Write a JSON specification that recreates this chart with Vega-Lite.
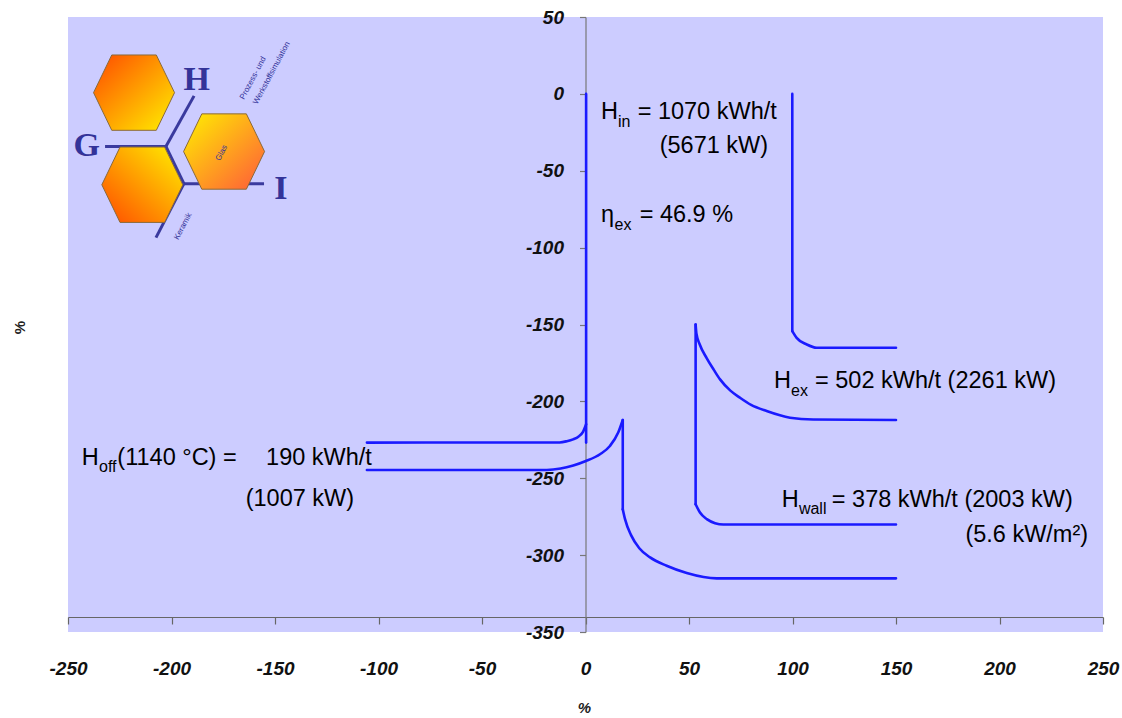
{
  "$schema": "https://vega.github.io/schema/vega-lite/v6.json",
  "width": 1035,
  "height": 615,
  "autosize": {"type": "none"},
  "padding": {"left": 68, "top": 17, "right": 19, "bottom": 86},
  "background": "white",
  "config": {
    "view": {"fill": "#ccccff", "stroke": null},
    "axis": {"grid": false}
  },
  "datasets": {
    "verticals": [
      {"series": "in_left", "order": 1, "x": 0.3, "y": 0},
      {"series": "in_left", "order": 2, "x": 0.3, "y": -226.8},
      {"series": "lower_drop", "order": 1, "x": 18, "y": -212.1},
      {"series": "lower_drop", "order": 2, "x": 18, "y": -270.1},
      {"series": "wall_drop", "order": 1, "x": 53.2, "y": -150},
      {"series": "wall_drop", "order": 2, "x": 53.2, "y": -266.9},
      {"series": "in_right", "order": 1, "x": 99.9, "y": 0},
      {"series": "in_right", "order": 2, "x": 99.9, "y": -154.3}
    ],
    "curves": [
      {"series": "off_upper", "order": 1, "x": -105.6, "y": -226.8},
      {"series": "off_upper", "order": 2, "x": -12.5, "y": -226.7},
      {"series": "off_upper", "order": 3, "x": -9, "y": -225.9},
      {"series": "off_upper", "order": 4, "x": -6, "y": -224.7},
      {"series": "off_upper", "order": 5, "x": -3.3, "y": -222.8},
      {"series": "off_upper", "order": 6, "x": -1.2, "y": -219.8},
      {"series": "off_upper", "order": 7, "x": 0.3, "y": -214.9},
      {"series": "lower_left", "order": 1, "x": -105.6, "y": -244.6},
      {"series": "lower_left", "order": 2, "x": -18.7, "y": -244.6},
      {"series": "lower_left", "order": 3, "x": -12, "y": -243.7},
      {"series": "lower_left", "order": 4, "x": -5.9, "y": -241.7},
      {"series": "lower_left", "order": 5, "x": 0.2, "y": -238.8},
      {"series": "lower_left", "order": 6, "x": 7, "y": -234.4},
      {"series": "lower_left", "order": 7, "x": 11.8, "y": -229},
      {"series": "lower_left", "order": 8, "x": 15.8, "y": -220.3},
      {"series": "lower_left", "order": 9, "x": 18, "y": -212.1},
      {"series": "lower_right", "order": 1, "x": 18, "y": -270.1},
      {"series": "lower_right", "order": 2, "x": 19.1, "y": -276.6},
      {"series": "lower_right", "order": 3, "x": 22, "y": -287},
      {"series": "lower_right", "order": 4, "x": 26, "y": -295.5},
      {"series": "lower_right", "order": 5, "x": 31.2, "y": -301.5},
      {"series": "lower_right", "order": 6, "x": 39.2, "y": -306.9},
      {"series": "lower_right", "order": 7, "x": 48.9, "y": -311.6},
      {"series": "lower_right", "order": 8, "x": 63.4, "y": -315.1},
      {"series": "lower_right", "order": 9, "x": 150, "y": -315.1},
      {"series": "wall", "order": 1, "x": 53.2, "y": -266.9},
      {"series": "wall", "order": 2, "x": 55.3, "y": -272.3},
      {"series": "wall", "order": 3, "x": 58.6, "y": -276.6},
      {"series": "wall", "order": 4, "x": 62.6, "y": -279.2},
      {"series": "wall", "order": 5, "x": 66.6, "y": -280.1},
      {"series": "wall", "order": 6, "x": 150, "y": -280.1},
      {"series": "ex", "order": 1, "x": 53.2, "y": -150},
      {"series": "ex", "order": 2, "x": 53.6, "y": -156},
      {"series": "ex", "order": 3, "x": 55.2, "y": -163},
      {"series": "ex", "order": 4, "x": 58.6, "y": -172},
      {"series": "ex", "order": 5, "x": 62, "y": -179.5},
      {"series": "ex", "order": 6, "x": 65, "y": -185.7},
      {"series": "ex", "order": 7, "x": 70, "y": -193},
      {"series": "ex", "order": 8, "x": 74.6, "y": -197.6},
      {"series": "ex", "order": 9, "x": 80, "y": -202.3},
      {"series": "ex", "order": 10, "x": 87.5, "y": -206.3},
      {"series": "ex", "order": 11, "x": 98.8, "y": -210.6},
      {"series": "ex", "order": 12, "x": 110, "y": -211.8},
      {"series": "ex", "order": 13, "x": 150, "y": -212.1},
      {"series": "in_right", "order": 1, "x": 99.9, "y": -154.3},
      {"series": "in_right", "order": 2, "x": 102, "y": -158.7},
      {"series": "in_right", "order": 3, "x": 106.9, "y": -163},
      {"series": "in_right", "order": 4, "x": 111.7, "y": -165.1},
      {"series": "in_right", "order": 5, "x": 150, "y": -165.1}
    ],
    "labels": [
      {"kind": "head", "x": 7.5, "y": -16.4, "text": "H"},
      {"kind": "sub", "x": 15.7, "y": -21.4, "text": "in"},
      {"kind": "tail", "x": 92.4, "y": -16.4, "text": "= 1070 kWh/t"},
      {"kind": "tail", "x": 88.2, "y": -38.3, "text": "(5671 kW)"},
      {"kind": "head", "x": 7.5, "y": -83.6, "text": "η"},
      {"kind": "sub", "x": 14.0, "y": -88.3, "text": "ex"},
      {"kind": "tail", "x": 71.3, "y": -83.6, "text": "= 46.9 %"},
      {"kind": "head", "x": 91.1, "y": -191.6, "text": "H"},
      {"kind": "sub", "x": 99.3, "y": -196.8, "text": "ex"},
      {"kind": "tail", "x": 227.3, "y": -191.6, "text": "= 502 kWh/t (2261 kW)"},
      {"kind": "head", "x": 94.8, "y": -268.8, "text": "H"},
      {"kind": "sub", "x": 103.1, "y": -273.4, "text": "wall"},
      {"kind": "tail", "x": 235.4, "y": -268.8, "text": "= 378 kWh/t (2003 kW)"},
      {"kind": "tail", "x": 242.8, "y": -291.6, "text": "(5.6 kW/m²)"},
      {"kind": "head", "x": -243.4, "y": -241.6, "text": "H"},
      {"kind": "sub", "x": -235.0, "y": -246.1, "text": "off"},
      {"kind": "tail", "x": -168.5, "y": -241.6, "text": "(1140 °C) ="},
      {"kind": "tail", "x": -103.2, "y": -241.6, "text": "190 kWh/t"},
      {"kind": "tail", "x": -111.8, "y": -268.2, "text": "(1007 kW)"}
    ],
    "logo_hex": [
      {"name": "top", "x": -218.1, "y": 0.8},
      {"name": "bottom", "x": -214.1, "y": -59.1},
      {"name": "glas", "x": -174.6, "y": -37.5}
    ],
    "logo_lines": [
      {"x": -232.1, "y": -34.2, "x2": -202.7, "y2": -34.2},
      {"x": -202.7, "y": -34.2, "x2": -189.1, "y2": -1.3},
      {"x": -202.7, "y": -34.2, "x2": -194.0, "y2": -58.4},
      {"x": -194.0, "y": -58.4, "x2": -155.3, "y2": -58.4},
      {"x": -194.0, "y": -58.4, "x2": -207.5, "y2": -93.5}
    ],
    "logo_letters": [
      {"x": -241.0, "y": -34.2, "text": "G"},
      {"x": -187.8, "y": 9.1, "text": "H"},
      {"x": -147.2, "y": -61.9, "text": "I"}
    ],
    "logo_small": [
      {"x": -175.7, "y": -38.5, "text": "Glas"},
      {"x": -194.3, "y": -86.2, "text": "Keramik"},
      {"x": -160.5, "y": 10.2, "text": "Prozess- und"},
      {"x": -151.5, "y": 13.5, "text": "Werkstoffsimulation"}
    ]
  },
  "layer": [
    {
      "data": {"name": "verticals"},
      "mark": {"type": "line", "color": "#1a1aff", "strokeWidth": 2.6, "strokeCap": "round", "interpolate": "linear", "clip": true},
      "encoding": {
        "x": {
          "field": "x", "type": "quantitative",
          "scale": {"domain": [-250, 250], "nice": false, "zero": false},
          "axis": {
            "orient": "bottom", "offset": -15,
            "values": [-250, -200, -150, -100, -50, 0, 50, 100, 150, 200, 250],
            "labelExpr": "datum.value < 0 ? '-' + abs(datum.value) : '' + datum.value",
            "tickSize": 7, "labelPadding": 35, "labelFlush": false, "labelOverlap": false,
            "labelFont": "Liberation Sans", "labelFontSize": 19, "labelFontWeight": "bold", "labelFontStyle": "italic", "labelColor": "#111111",
            "domainColor": "#666666", "tickColor": "#666666", "domainWidth": 1.2, "tickWidth": 1.2,
            "title": "%", "titleX": 516, "titleY": 90, "titleAlign": "center", "titleBaseline": "middle",
            "titleFont": "Liberation Sans", "titleFontSize": 15, "titleFontWeight": "bold", "titleFontStyle": "italic", "titleColor": "#222222"
          }
        },
        "y": {
          "field": "y", "type": "quantitative",
          "scale": {"domain": [-350, 50], "nice": false, "zero": false},
          "axis": {
            "orient": "left", "offset": -517.5,
            "values": [50, 0, -50, -100, -150, -200, -250, -300, -350],
            "labelExpr": "datum.value < 0 ? '-' + abs(datum.value) : '' + datum.value",
            "tickSize": 6, "labelPadding": 16, "labelFlush": false, "labelOverlap": false,
            "labelFont": "Liberation Sans", "labelFontSize": 19, "labelFontWeight": "bold", "labelFontStyle": "italic", "labelColor": "#111111",
            "domainColor": "#777777", "tickColor": "#777777", "domainWidth": 1.2, "tickWidth": 1.2,
            "title": "%", "titleX": -566, "titleY": 310, "titleAngle": -90, "titleAlign": "center", "titleBaseline": "middle",
            "titleFont": "Liberation Sans", "titleFontSize": 15, "titleFontWeight": "bold", "titleColor": "#222222"
          }
        },
        "detail": {"field": "series"},
        "order": {"field": "order", "type": "quantitative"}
      }
    },
    {
      "data": {"name": "curves"},
      "mark": {"type": "line", "color": "#1a1aff", "strokeWidth": 2.6, "strokeCap": "round", "interpolate": "monotone", "clip": true},
      "encoding": {
        "x": {"field": "x", "type": "quantitative"},
        "y": {"field": "y", "type": "quantitative"},
        "detail": {"field": "series"},
        "order": {"field": "order", "type": "quantitative"}
      }
    },
    {
      "data": {"name": "labels"},
      "transform": [{"filter": "datum.kind === 'head'"}],
      "mark": {"type": "text", "align": "left", "baseline": "alphabetic", "font": "Liberation Sans", "fontSize": 23.5, "color": "#000000"},
      "encoding": {
        "x": {"field": "x", "type": "quantitative"},
        "y": {"field": "y", "type": "quantitative"},
        "text": {"field": "text"}
      }
    },
    {
      "data": {"name": "labels"},
      "transform": [{"filter": "datum.kind === 'tail'"}],
      "mark": {"type": "text", "align": "right", "baseline": "alphabetic", "font": "Liberation Sans", "fontSize": 23.5, "color": "#000000"},
      "encoding": {
        "x": {"field": "x", "type": "quantitative"},
        "y": {"field": "y", "type": "quantitative"},
        "text": {"field": "text"}
      }
    },
    {
      "data": {"name": "labels"},
      "transform": [{"filter": "datum.kind === 'sub'"}],
      "mark": {"type": "text", "align": "left", "baseline": "alphabetic", "font": "Liberation Sans", "fontSize": 16, "color": "#000000"},
      "encoding": {
        "x": {"field": "x", "type": "quantitative"},
        "y": {"field": "y", "type": "quantitative"},
        "text": {"field": "text"}
      }
    },
    {
      "data": {"name": "logo_lines"},
      "mark": {"type": "rule", "color": "#3a3a9e", "strokeWidth": 3},
      "encoding": {
        "x": {"field": "x", "type": "quantitative"},
        "y": {"field": "y", "type": "quantitative"},
        "x2": {"field": "x2"},
        "y2": {"field": "y2"}
      }
    },
    {
      "data": {"name": "logo_hex"},
      "transform": [{"filter": "datum.name === 'top'"}],
      "mark": {
        "type": "point", "filled": true, "opacity": 1, "size": 6561,
        "shape": "M -1 0 L -0.55 -0.93 L 0.55 -0.93 L 1 0 L 0.55 0.93 L -0.55 0.93 Z",
        "fill": {"gradient": "linear", "x1": 0, "y1": 0, "x2": 1, "y2": 1, "stops": [{"offset": 0, "color": "#ff4a00"}, {"offset": 1, "color": "#fff000"}]},
        "stroke": "#8a6a3a", "strokeWidth": 1
      },
      "encoding": {
        "x": {"field": "x", "type": "quantitative"},
        "y": {"field": "y", "type": "quantitative"}
      }
    },
    {
      "data": {"name": "logo_hex"},
      "transform": [{"filter": "datum.name === 'bottom'"}],
      "mark": {
        "type": "point", "filled": true, "opacity": 1, "size": 6561,
        "shape": "M -1 0 L -0.55 -0.93 L 0.55 -0.93 L 1 0 L 0.55 0.93 L -0.55 0.93 Z",
        "fill": {"gradient": "linear", "x1": 1, "y1": 0, "x2": 0, "y2": 1, "stops": [{"offset": 0, "color": "#fff000"}, {"offset": 1, "color": "#ff4a00"}]},
        "stroke": "#8a6a3a", "strokeWidth": 1
      },
      "encoding": {
        "x": {"field": "x", "type": "quantitative"},
        "y": {"field": "y", "type": "quantitative"}
      }
    },
    {
      "data": {"name": "logo_hex"},
      "transform": [{"filter": "datum.name === 'glas'"}],
      "mark": {
        "type": "point", "filled": true, "opacity": 1, "size": 6561,
        "shape": "M -1 0 L -0.55 -0.93 L 0.55 -0.93 L 1 0 L 0.55 0.93 L -0.55 0.93 Z",
        "fill": {"gradient": "linear", "x1": 0, "y1": 0, "x2": 1, "y2": 1, "stops": [{"offset": 0, "color": "#fff000"}, {"offset": 1, "color": "#ff5a3a"}]},
        "stroke": "#8a6a3a", "strokeWidth": 1
      },
      "encoding": {
        "x": {"field": "x", "type": "quantitative"},
        "y": {"field": "y", "type": "quantitative"}
      }
    },
    {
      "data": {"name": "logo_letters"},
      "mark": {"type": "text", "align": "center", "baseline": "middle", "font": "Liberation Serif", "fontWeight": "bold", "fontSize": 34, "color": "#333399"},
      "encoding": {
        "x": {"field": "x", "type": "quantitative"},
        "y": {"field": "y", "type": "quantitative"},
        "text": {"field": "text"}
      }
    },
    {
      "data": {"name": "logo_small"},
      "mark": {"type": "text", "align": "center", "baseline": "middle", "font": "Liberation Sans", "fontSize": 8, "angle": -62, "color": "#333399"},
      "encoding": {
        "x": {"field": "x", "type": "quantitative"},
        "y": {"field": "y", "type": "quantitative"},
        "text": {"field": "text"}
      }
    }
  ]
}
